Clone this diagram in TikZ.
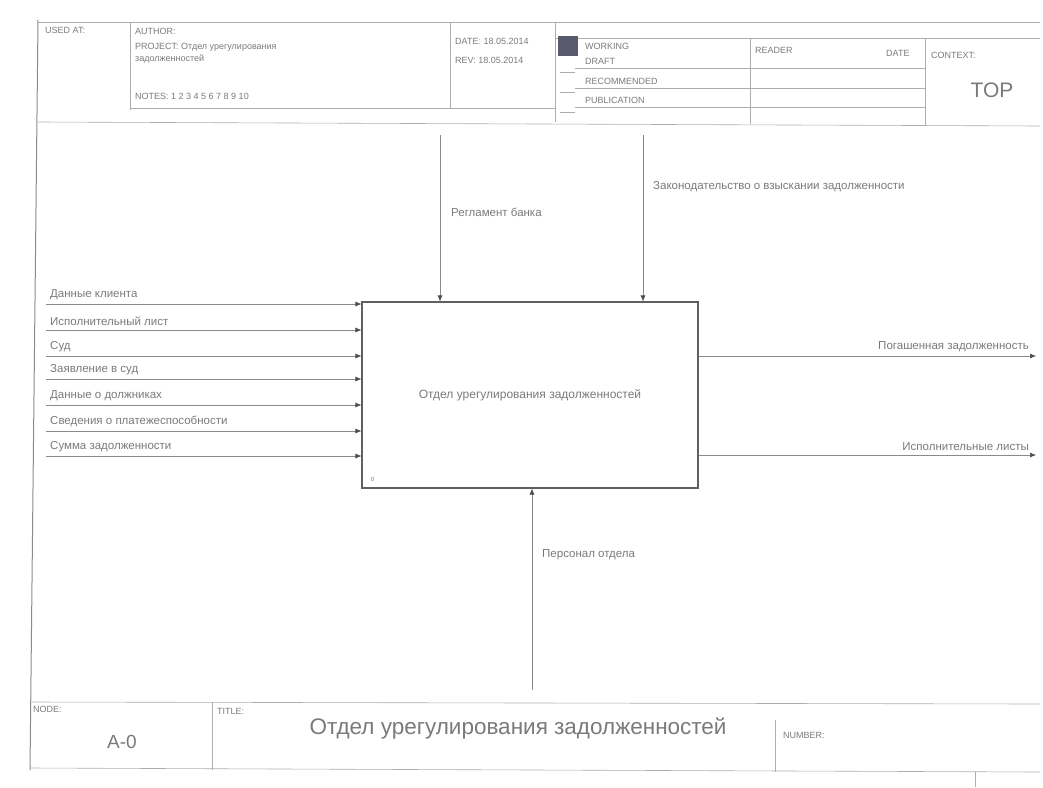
\documentclass[tikz,border=0pt]{standalone}
\usepackage{fontspec}
\setmainfont{Liberation Sans}
\usetikzlibrary{arrows.meta,calc}
\definecolor{ln}{HTML}{8A8A8A}
\definecolor{tx}{HTML}{7A7A7A}
\definecolor{bx}{HTML}{606060}
\definecolor{sq}{HTML}{5A5A6E}
\tikzset{
  frame/.style={draw=ln!70, line width=0.6pt},
  arr/.style={draw=ln, line width=0.6pt, -{Latex[length=6pt,width=5pt,fill=bx!80!black,color=bx!80!black]}},
  lbl/.style={text=tx, font=\fontsize{11.5}{13}\selectfont, inner sep=1pt},
  hdr/.style={text=tx, font=\fontsize{9}{10}\selectfont, inner sep=1pt, anchor=west},
  act/.style={draw=bx, line width=1.1pt, fill=white, minimum width=336pt, minimum height=186pt, text=tx, font=\fontsize{12}{14}\selectfont}
}
\begin{document}
\begin{tikzpicture}[x=1pt,y=-1pt]
\useasboundingbox (0,0) rectangle (1043,787);
% outer frame
\draw[frame, line width=1pt, draw=ln] (38,20) -- (30,770);
\draw[frame] (38,22) -- (1040,22);
\draw[frame] (38,122) -- (1040,126);
\draw[frame] (130,22) -- (130,110);
\draw[frame] (130,108) -- (555,108);
\draw[frame] (450,22) -- (450,108);
\draw[frame] (555,22) -- (555,122);
\draw[frame] (750,38) -- (750,124);
\draw[frame] (925,38) -- (925,125);
\draw[frame] (555,38) -- (1040,38);
\foreach \yy in {68,88,107} \draw[frame] (575,\yy) -- (925,\yy);
\foreach \yy in {52,72,92,112} \draw[frame] (560,\yy) -- (575,\yy);
\fill[sq] (558,36) rectangle (578,56);
% header text
\node[hdr] (usedat) at (44,30) {USED AT:};
\node[hdr] (author) at (134,31) {AUTHOR:};
\node[hdr] (project) at (134,47) {PROJECT: Отдел урегулирования};
\node[hdr] (project2) at (134,59) {задолженностей};
\node[hdr] (notes) at (134,96) {NOTES: 1 2 3 4 5 6 7 8 9 10};
\node[hdr] (date) at (454,41) {DATE: 18.05.2014};
\node[hdr] (rev) at (454,60) {REV: 18.05.2014};
\node[hdr] (working) at (584,46) {WORKING};
\node[hdr] (draft) at (584,61) {DRAFT};
\node[hdr] (recom) at (584,81) {RECOMMENDED};
\node[hdr] (publ) at (584,100) {PUBLICATION};
\node[hdr] (reader) at (754,50) {READER};
\node[hdr] (rdate) at (885,53) {DATE};
\node[hdr] (context) at (930,55) {CONTEXT:};
\node[text=tx, font=\fontsize{21}{24}\selectfont] (top) at (992,90) {TOP};
% activity box
\node[act] (A0) at (530,395) {Отдел урегулирования задолженностей};
\node[text=tx, font=\fontsize{6}{7}\selectfont, anchor=south west] (A0n) at ($(A0.south west)+(6,-3)$) {0};
% controls
\coordinate (c1) at (440,135);
\coordinate (c2) at (643,135);
\draw[arr] (c1) -- (c1 |- A0.north);
\draw[arr] (c2) -- (c2 |- A0.north);
\node[lbl, anchor=west] (c1l) at (450,212) {Регламент банка};
\node[lbl, anchor=west] (c2l) at (652,187) {Законодательство о взыскании задолженности};
% inputs
\foreach \i/\yy/\t in {1/304/Данные клиента,2/330/Исполнительный лист,3/356/Суд,4/379/Заявление в суд,5/405/Данные о должниках,6/431/Сведения о платежеспособности,7/456/Сумма задолженности}{
  \coordinate (in\i) at (46,\yy);
  \draw[arr] (in\i) -- (in\i -| A0.west);
  \node[lbl, anchor=south west] (in\i l) at ($(in\i)+(3,-3)$) {\t};
}
% outputs
\coordinate (o1) at (1036,356);
\coordinate (o2) at (1036,455);
\draw[arr] (o1 -| A0.east) -- (o1);
\draw[arr] (o2 -| A0.east) -- (o2);
\node[lbl, anchor=south east] (o1l) at ($(o1)+(-6,-3)$) {Погашенная задолженность};
\node[lbl, anchor=south east] (o2l) at ($(o2)+(-6,-3)$) {Исполнительные листы};
% mechanism
\coordinate (m1) at (532,690);
\draw[arr] (m1) -- (m1 |- A0.south);
\node[lbl, anchor=west] (m1l) at (541,555) {Персонал отдела};
% footer
\draw[frame] (30,702) -- (1040,704);
\draw[frame] (30,768) -- (1040,772);
\draw[frame] (212,702) -- (212,770);
\draw[frame] (775,720) -- (775,772);
\draw[frame] (975,772) -- (975,787);
\node[hdr] (node) at (32,709) {NODE:};
\node[text=tx, font=\fontsize{19}{22}\selectfont] (nodev) at (122,742) {A-0};
\node[hdr] (title) at (216,711) {TITLE:};
\node[text=tx, font=\fontsize{22.5}{26}\selectfont, anchor=west] (titlev) at (306,728) {Отдел урегулирования задолженностей};
\node[hdr] (number) at (782,735) {NUMBER:};
\end{tikzpicture}
\end{document}
